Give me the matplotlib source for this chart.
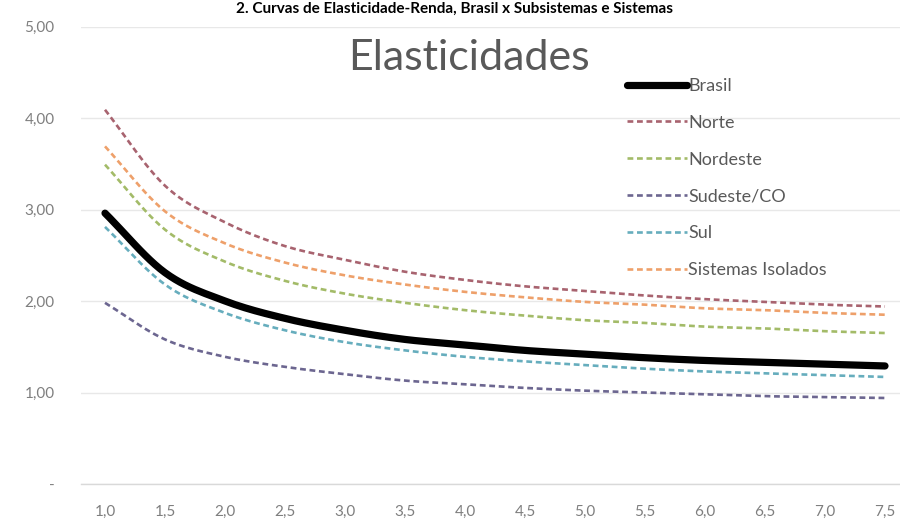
import matplotlib
matplotlib.use("Agg")
import matplotlib.pyplot as plt
import numpy as np

# ---- data ----
x_vals = [1.0, 1.5, 2.0, 2.5, 3.0, 3.5, 4.0, 4.5, 5.0, 5.5, 6.0, 6.5, 7.0, 7.5]
x_labels = ["1,0", "1,5", "2,0", "2,5", "3,0", "3,5", "4,0", "4,5", "5,0", "5,5", "6,0", "6,5", "7,0", "7,5"]
brasil = [2.96, 2.31, 2.00, 1.81, 1.68, 1.58, 1.52, 1.46, 1.42, 1.38, 1.35, 1.33, 1.31, 1.29]
norte = [4.09, 3.26, 2.86, 2.60, 2.45, 2.32, 2.23, 2.16, 2.11, 2.06, 2.02, 1.99, 1.96, 1.94]
nordeste = [3.49, 2.78, 2.43, 2.22, 2.08, 1.98, 1.90, 1.84, 1.79, 1.76, 1.72, 1.70, 1.67, 1.65]
sudeste = [1.98, 1.58, 1.39, 1.28, 1.20, 1.13, 1.09, 1.05, 1.02, 1.00, 0.98, 0.96, 0.95, 0.94]
sul = [2.81, 2.18, 1.87, 1.68, 1.55, 1.46, 1.39, 1.34, 1.30, 1.26, 1.23, 1.21, 1.19, 1.17]
isolados = [3.69, 2.98, 2.63, 2.42, 2.28, 2.18, 2.10, 2.04, 1.99, 1.96, 1.92, 1.90, 1.87, 1.85]
y_ticks = [0, 1, 2, 3, 4, 5]
y_labels = ["-", "1,00", "2,00", "3,00", "4,00", "5,00"]


def smooth(xs, ys, n=12):
    """Catmull-Rom path through the points (like a spreadsheet 'smoothed line')."""
    xs = np.asarray(xs, float)
    ys = np.asarray(ys, float)
    px = np.concatenate([[2 * xs[0] - xs[1]], xs, [2 * xs[-1] - xs[-2]]])
    py = np.concatenate([[2 * ys[0] - ys[1]], ys, [2 * ys[-1] - ys[-2]]])
    ox, oy = [], []
    t = np.linspace(0, 1, n, endpoint=False)
    for i in range(1, len(px) - 2):
        for arr, out in ((px, ox), (py, oy)):
            p0, p1, p2, p3 = arr[i - 1], arr[i], arr[i + 1], arr[i + 2]
            out.extend(0.5 * ((2 * p1) + (-p0 + p2) * t + (2 * p0 - 5 * p1 + 4 * p2 - p3) * t ** 2
                              + (-p0 + 3 * p1 - 3 * p2 + p3) * t ** 3))
    ox.append(xs[-1])
    oy.append(ys[-1])
    return ox, oy


W, H = 900, 522
fig = plt.figure(figsize=(W / 100, H / 100), dpi=100)
fig.patch.set_facecolor("white")

left, right, bottom, top = 81, 900, 484, 26.5
ax = fig.add_axes([left / W, 1 - bottom / H, (right - left) / W, (bottom - top) / H])

FONT = "Lato"
dash = (2.2, 1.4)
series = [
    ("Norte", norte, "#a8636f"),
    ("Nordeste", nordeste, "#a3bb68"),
    ("Sudeste/CO", sudeste, "#6c6690"),
    ("Sul", sul, "#66adbd"),
    ("Sistemas Isolados", isolados, "#eea06a"),
]
sx, sy = smooth(x_vals, brasil)
h_br, = ax.plot(sx, sy, color="black", lw=5.2, solid_capstyle="round", label="Brasil", zorder=5)
handles = [h_br]
for name, vals, col in series:
    sx, sy = smooth(x_vals, vals)
    h, = ax.plot(sx, sy, color=col, lw=1.9, dashes=dash, label=name, zorder=4)
    handles.append(h)

ax.set_xlim(0.8, 7.625)
ax.set_ylim(0, 5)
ax.set_xticks(x_vals)
ax.set_xticklabels(x_labels, fontfamily=FONT, fontsize=11, color="#7f7f7f")
ax.set_yticks(y_ticks)
ax.set_yticklabels(y_labels, fontfamily=FONT, fontsize=11, color="#7f7f7f")
ax.tick_params(axis="both", length=0)
ax.tick_params(axis="y", pad=19)
ax.tick_params(axis="x", pad=15)
for s in ["top", "right", "left"]:
    ax.spines[s].set_visible(False)
ax.spines["bottom"].set_color("#d9d9d9")
ax.spines["bottom"].set_linewidth(1.0)
ax.grid(axis="y", color="#e8e8e8", lw=1.0)
ax.set_axisbelow(True)

leg = fig.legend(handles=handles, loc="upper left", bbox_to_anchor=(627 / W, 1 - 78 / H),
                 frameon=False, borderpad=0, borderaxespad=0, handlelength=3.3,
                 handletextpad=0.1, labelspacing=1.15,
                 prop={"family": FONT, "size": 13})
for t in leg.get_texts():
    t.set_color("#595959")

fig.text(469 / W, 1 - 70 / H, "Elasticidades", ha="center", va="baseline",
         fontfamily=FONT, fontsize=31, color="#595959")
fig.text(455 / W, 1 - 2 / H, "2. Curvas de Elasticidade-Renda, Brasil x Subsistemas e Sistemas",
         ha="center", va="top", fontfamily=FONT, fontweight="bold", fontsize=11, color="black")

fig.savefig("out.png", dpi=100, facecolor="white")
